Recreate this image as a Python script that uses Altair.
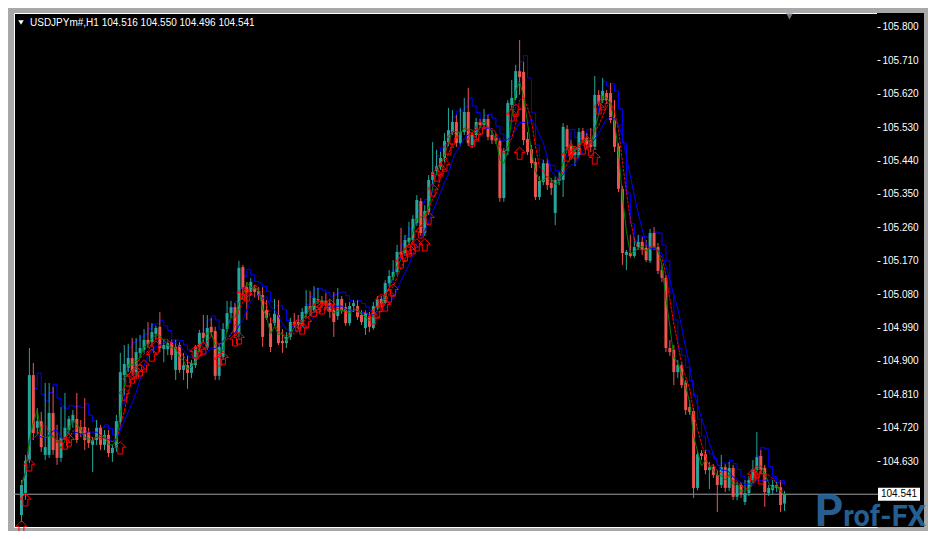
import altair as alt
import numpy as np
import pandas as pd

symbol = "USDJPYm#,H1"
y_ticks = [105.800, 105.710, 105.620, 105.530, 105.440, 105.350, 105.260,
           105.170, 105.080, 104.990, 104.900, 104.810, 104.720, 104.630]

opens = [104.485,104.544,104.633,104.862,104.720,104.738,104.647,104.647,104.760,104.687,
         104.639,104.695,104.714,104.736,104.744,104.722,104.722,104.709,104.674,104.687,
         104.720,104.674,104.701,104.652,104.666,104.736,104.862,104.881,104.908,104.870,
         104.922,104.930,104.957,104.951,104.973,104.992,104.932,104.932,104.951,104.876,
         104.943,104.876,104.889,104.868,104.889,104.938,104.976,104.938,104.992,104.981,
         104.860,104.911,104.986,105.029,105.045,104.976,105.153,105.099,105.086,105.097,
         105.089,105.078,105.037,105.002,105.002,105.024,104.954,104.948,104.965,105.005,
         105.005,105.000,105.027,105.048,105.037,105.064,105.064,105.062,105.056,105.037,
         105.021,105.067,105.045,105.002,105.048,105.048,105.024,104.989,105.019,104.989,
         105.045,105.067,105.056,105.110,105.126,105.140,105.194,105.191,105.221,105.226,
         105.272,105.331,105.245,105.302,105.388,105.412,105.423,105.447,105.490,105.517,
         105.544,105.487,105.517,105.571,105.482,105.509,105.544,105.536,105.552,105.509,
         105.501,105.493,105.339,105.466,105.590,105.609,105.681,105.679,105.498,105.471,
         105.436,105.342,105.382,105.433,105.380,105.299,105.385,105.388,105.525,105.479,
         105.455,105.455,105.520,105.501,105.495,105.477,105.617,105.603,105.622,105.622,
         105.549,105.479,105.364,105.186,105.191,105.183,105.207,105.221,105.205,105.170,
         105.245,105.207,105.145,105.124,104.935,104.930,104.870,104.889,104.841,104.776,
         104.765,104.558,104.652,104.649,104.606,104.614,104.593,104.566,104.614,104.558,
         104.612,104.534,104.566,104.520,104.544,104.579,104.606,104.644,104.612,104.544,
         104.552,104.558,104.560,104.516]
highs = [104.579,104.647,104.935,104.895,104.773,104.763,104.841,104.841,104.830,104.728,
         104.776,104.814,104.752,104.768,104.814,104.741,104.800,104.720,104.695,104.741,
         104.728,104.714,104.714,104.674,104.755,104.922,104.943,104.946,104.962,104.962,
         104.970,104.986,105.005,105.002,104.995,105.032,104.957,104.957,104.957,104.957,
         104.951,104.922,104.916,104.903,104.943,104.984,105.024,105.024,105.016,104.992,
         104.948,105.002,105.062,105.062,105.056,105.170,105.159,105.113,105.124,105.105,
         105.099,105.099,105.064,105.016,105.067,105.064,104.986,104.978,105.016,105.029,
         105.024,105.043,105.091,105.089,105.102,105.097,105.075,105.083,105.067,105.086,
         105.097,105.075,105.056,105.059,105.064,105.064,105.037,105.037,105.032,105.059,
         105.075,105.075,105.118,105.145,105.172,105.213,105.259,105.240,105.275,105.293,
         105.347,105.339,105.320,105.401,105.490,105.469,105.463,105.514,105.582,105.576,
         105.563,105.582,105.609,105.636,105.517,105.555,105.552,105.579,105.563,105.522,
         105.514,105.501,105.474,105.603,105.657,105.698,105.765,105.706,105.517,105.482,
         105.447,105.398,105.442,105.447,105.393,105.398,105.409,105.541,105.536,105.495,
         105.474,105.528,105.528,105.514,105.528,105.668,105.630,105.663,105.630,105.649,
         105.603,105.487,105.372,105.199,105.240,105.232,105.240,105.234,105.226,105.256,
         105.261,105.218,105.159,105.132,104.957,104.943,104.903,104.897,104.849,104.795,
         104.773,104.660,104.660,104.660,104.628,104.622,104.606,104.647,104.622,104.628,
         104.620,104.574,104.574,104.579,104.590,104.633,104.709,104.660,104.620,104.566,
         104.579,104.574,104.579,104.550]
lows = [104.466,104.526,104.625,104.687,104.701,104.655,104.633,104.639,104.647,104.620,
        104.628,104.687,104.703,104.720,104.679,104.695,104.660,104.666,104.601,104.674,
        104.660,104.660,104.641,104.628,104.655,104.728,104.808,104.870,104.860,104.854,
        104.908,104.922,104.935,104.940,104.957,104.924,104.897,104.916,104.903,104.849,
        104.868,104.849,104.825,104.854,104.881,104.924,104.951,104.930,104.967,104.849,
        104.849,104.903,104.978,105.016,104.967,104.965,105.064,105.011,105.075,105.070,
        105.064,104.938,105.011,104.924,104.995,104.943,104.922,104.935,104.957,104.989,
        104.984,104.989,105.016,105.021,105.029,105.054,105.043,105.037,105.016,104.965,
        105.011,105.027,104.995,104.995,105.032,105.011,104.997,104.970,104.978,104.984,
        105.037,105.043,105.054,105.102,105.118,105.132,105.178,105.183,105.213,105.218,
        105.264,105.237,105.237,105.293,105.377,105.401,105.415,105.436,105.479,105.509,
        105.477,105.479,105.509,105.479,105.474,105.501,105.528,105.528,105.495,105.485,
        105.485,105.329,105.329,105.455,105.582,105.603,105.617,105.482,105.455,105.420,
        105.334,105.334,105.374,105.361,105.347,105.266,105.374,105.342,105.469,105.442,
        105.425,105.447,105.487,105.474,105.463,105.469,105.587,105.595,105.593,105.541,
        105.463,105.355,105.159,105.145,105.178,105.178,105.199,105.186,105.167,105.164,
        105.199,105.134,105.113,104.924,104.914,104.835,104.854,104.827,104.755,104.755,
        104.531,104.552,104.633,104.595,104.555,104.585,104.493,104.558,104.547,104.550,
        104.525,104.525,104.531,104.512,104.536,104.571,104.598,104.595,104.507,104.536,
        104.542,104.547,104.493,104.496]
closes = [104.566,104.631,104.862,104.706,104.738,104.668,104.668,104.760,104.660,104.639,
          104.695,104.720,104.744,104.755,104.687,104.706,104.687,104.679,104.687,104.720,
          104.674,104.701,104.652,104.666,104.738,104.870,104.892,104.908,104.870,104.924,
          104.935,104.957,104.946,104.978,104.989,104.935,104.943,104.948,104.916,104.938,
          104.876,104.889,104.868,104.895,104.938,104.976,104.962,104.989,104.978,104.860,
          104.938,104.986,105.029,105.045,104.976,105.151,105.097,105.086,105.113,105.086,
          105.075,104.965,105.016,104.938,105.027,104.948,104.948,104.965,105.005,105.000,
          104.997,105.032,105.048,105.037,105.070,105.067,105.054,105.051,105.032,105.005,
          105.067,105.037,105.002,105.048,105.056,105.019,105.005,105.029,104.992,105.048,
          105.067,105.054,105.110,105.129,105.140,105.194,105.186,105.226,105.232,105.283,
          105.334,105.245,105.304,105.388,105.409,105.425,105.447,105.493,105.522,105.544,
          105.487,105.517,105.571,105.487,105.509,105.544,105.536,105.552,105.504,105.495,
          105.493,105.339,105.466,105.595,105.609,105.681,105.665,105.495,105.463,105.433,
          105.342,105.385,105.433,105.374,105.366,105.388,105.393,105.531,105.477,105.455,
          105.463,105.517,105.495,105.482,105.477,105.617,105.598,105.628,105.603,105.549,
          105.477,105.364,105.191,105.194,105.183,105.207,105.221,105.199,105.172,105.245,
          105.207,105.143,105.124,104.935,104.924,104.870,104.889,104.835,104.768,104.763,
          104.558,104.649,104.644,104.606,104.614,104.593,104.566,104.614,104.558,104.612,
          104.534,104.566,104.542,104.544,104.579,104.609,104.641,104.606,104.547,104.558,
          104.566,104.566,104.512,104.541]

arrow_idx = [0,1,2,11,12,25,26,27,28,29,30,31,33,34,44,45,46,50,51,54,55,56,57,
             70,71,72,74,75,76,78,89,90,91,92,93,94,96,97,98,99,100,101,102,103,
             104,105,106,107,108,109,114,115,116,124,125,126,138,139,140,142,143,
             144,145,146,147,185,186,187]
arrow_price = [104.453,104.526,104.620,104.679,104.687,104.666,104.811,104.849,104.857,
               104.870,104.876,104.887,104.916,104.938,104.924,104.930,104.935,104.903,
               104.908,104.957,104.962,105.083,105.078,104.997,104.989,105.005,105.037,
               105.048,105.043,105.051,105.016,105.032,105.064,105.051,105.075,105.091,
               105.167,105.186,105.199,105.205,105.213,105.248,105.213,105.285,105.361,
               105.401,105.415,105.428,105.474,105.501,105.495,105.509,105.528,105.563,
               105.576,105.460,105.455,105.469,105.463,105.474,105.490,105.469,105.447,
               105.582,105.593,104.593,104.601,104.585]

TEAL = "#26a69a"
RED = "#ef5350"
FONT = "Liberation Sans"
WM = "#2c6fa8"

df = pd.DataFrame({"i": range(len(closes)), "open": opens, "high": highs,
                   "low": lows, "close": closes})
df["dir"] = np.where(df["close"] >= df["open"], "up", "down")
arr = pd.DataFrame({"i": arrow_idx, "price": arrow_price})
last = df.tail(1)
one = pd.DataFrame({"a": [0]})
header = "{}  {:.3f} {:.3f} {:.3f} {:.3f}".format(
    symbol, opens[-1], highs[-1], lows[-1], closes[-1])

W, H = 863, 514
xs = alt.Scale(domain=[-0.625, 215.125], nice=False, zero=False)
ys = alt.Scale(domain=[104.4527, 105.8377], nice=False, zero=False)
yaxis = alt.Axis(orient="right", values=y_ticks, format=".3f", title=None,
                 grid=False, domain=False, ticks=True, tickColor="#ffffff",
                 tickSize=3, labelColor="#ffffff", labelFont=FONT,
                 labelFontSize=10, labelPadding=2, zindex=1)


def X():
    return alt.X("i:Q", scale=xs, axis=None)


def Y(f):
    return alt.Y(f"{f}:Q", scale=ys, axis=yaxis)


dir_color = alt.Color("dir:N", scale=alt.Scale(domain=["up", "down"], range=[TEAL, RED]),
                      legend=None)

axis_bg = alt.Chart(one).mark_rect(color="#000000").encode(
    x=alt.value(W), x2=alt.value(910), y=alt.value(0), y2=alt.value(H))

bid_line = alt.Chart(last).mark_rule(color="#9aa0a6", strokeWidth=1).encode(
    x=alt.value(0), x2=alt.value(W + 1), y=Y("close"))

base = alt.Chart(df)
step_line = base.transform_window(
    hs="mean(high)", frame=[-2, 0], sort=[alt.SortField("i")]
).mark_line(color="#0000ff", strokeWidth=1, interpolate="step-after").encode(
    x=X(), y=Y("hs"))

wicks = base.mark_rule(strokeWidth=1).encode(x=X(), y=Y("low"), y2="high:Q", color=dir_color)
bodies = base.mark_bar(size=3).encode(x=X(), y=Y("open"), y2="close:Q", color=dir_color)

ma_blue = base.transform_window(
    m="mean(close)", frame=[-7, 0], sort=[alt.SortField("i")]
).mark_line(color="#0000ff", strokeWidth=1).encode(x=X(), y=Y("m"))
ma_red = base.transform_window(
    m="mean(close)", frame=[-4, 0], sort=[alt.SortField("i")]
).mark_line(color="#ff0000", strokeWidth=1, strokeDash=[3, 1]).encode(x=X(), y=Y("m"))
ma_green = base.transform_window(
    m="mean(close)", frame=[-2, 0], sort=[alt.SortField("i")]
).mark_line(color="#008000", strokeWidth=1).encode(x=X(), y=Y("m"))

arrow_path = "M0,-1L0.9,-0.1L0.4,-0.1L0.4,1L-0.4,1L-0.4,-0.1L-0.9,-0.1Z"
arrows = alt.Chart(arr).mark_point(shape=arrow_path, filled=False, color="#ff0000",
                                   strokeWidth=1, size=150, opacity=1).encode(
    x=X(), y=Y("price"))

box_path = "M-1.615,-0.5L1.615,-0.5L1.615,0.5L-1.615,0.5Z"
price_box = alt.Chart(last).mark_point(shape=box_path, filled=True, color="#ffffff",
                                       size=676, opacity=1).encode(
    x=alt.value(885), y=Y("close"))
price_txt = alt.Chart(last).mark_text(color="#000000", font=FONT, fontSize=10,
                                      align="center", baseline="middle").encode(
    x=alt.value(885), y=Y("close"), text=alt.Text("close:Q", format=".3f"))

hdr_tri = alt.Chart(one).mark_point(shape="triangle-down", filled=True, color="#ffffff",
                                    size=30, opacity=1).encode(
    x=alt.value(7), y=alt.value(9.5))
hdr_txt = alt.Chart(one).mark_text(text=header, align="left", baseline="middle",
                                   color="#ffffff", font=FONT, fontSize=10).encode(
    x=alt.value(16), y=alt.value(10))
shift_tri = alt.Chart(one).mark_point(shape="triangle-down", filled=True, color="#6b7b8c",
                                      size=45, opacity=1).encode(
    x=alt.value(775.5), y=alt.value(3.5))

wm_p = alt.Chart(one).mark_text(text="P", align="left", baseline="alphabetic",
                                font="Roboto", fontWeight="bold", fontSize=44,
                                color=WM, opacity=0.85).encode(
    x=alt.value(801), y=alt.value(513))
wm_rest = alt.Chart(one).mark_text(text="rof-FX", align="right", baseline="alphabetic",
                                   font="Roboto", fontWeight="bold", fontSize=29,
                                   color=WM, opacity=0.85).encode(
    x=alt.value(912), y=alt.value(513))

chart = alt.layer(
    axis_bg, bid_line, step_line, wicks, bodies, ma_blue, ma_red, ma_green, arrows,
    price_box, price_txt, hdr_tri, hdr_txt, shift_tri, wm_p, wm_rest
).properties(
    width=W, height=H,
    padding={"left": 6, "top": 5, "right": 51, "bottom": 4},
    autosize=alt.AutoSizeParams(type="none"),
    background="#a8a8a8",
).configure_view(fill="#000000", stroke="#ffffff", strokeWidth=1)

chart.save("out.html", embed_options={"renderer": "svg", "actions": False})
